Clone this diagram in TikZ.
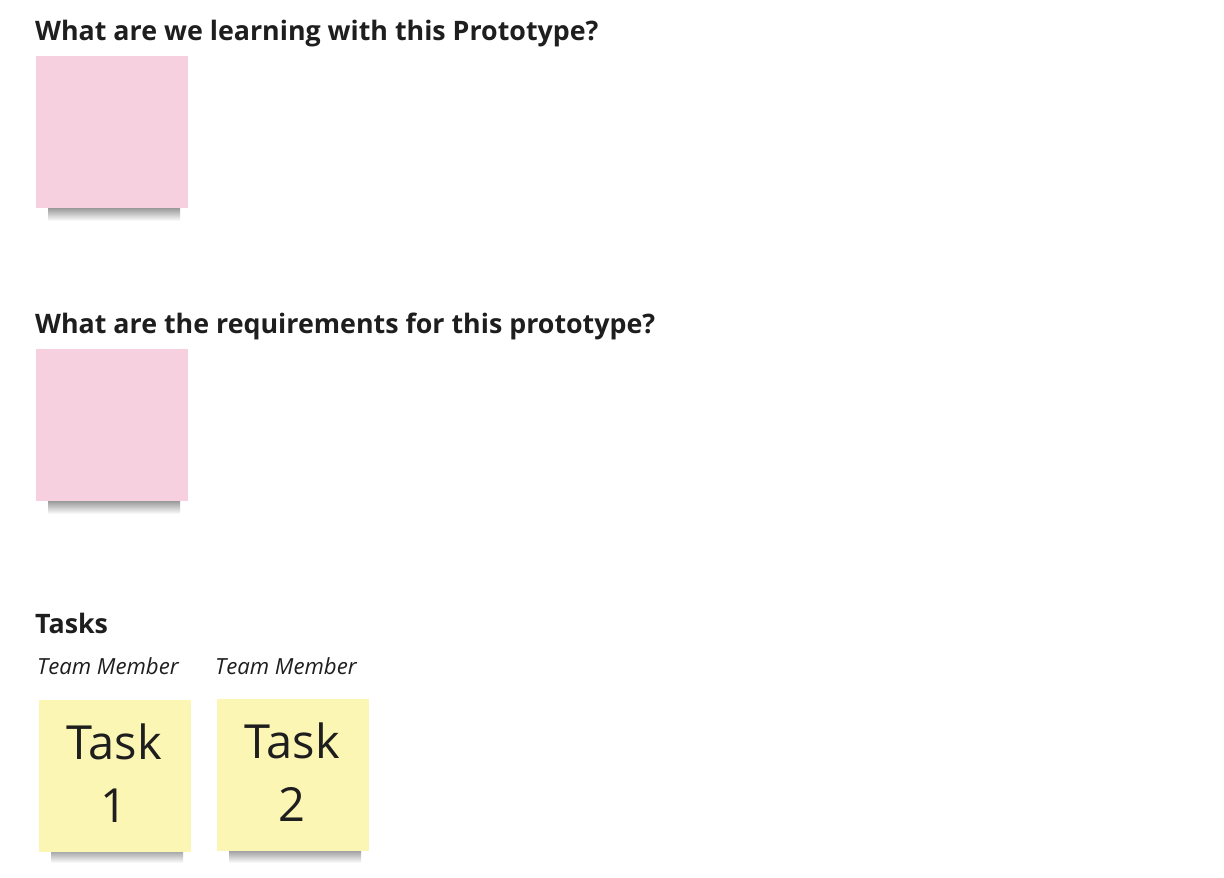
\documentclass[tikz,border=0pt]{standalone}
\usepackage{fontspec}
\setmainfont{Open Sans}
\definecolor{notepink}{HTML}{F6D0DF}
\definecolor{noteyellow}{HTML}{FCF6B4}
\definecolor{inkdark}{HTML}{1E1E1E}
\begin{document}
\begin{tikzpicture}[x=1pt,y=-1pt,
  heading/.style={anchor=base west,inner sep=0pt,font=\fontsize{26.8}{32}\selectfont\bfseries,text=inkdark},
  member/.style={anchor=base west,inner sep=0pt,font=\fontsize{22.2}{26}\selectfont\itshape,text=inkdark},
  sticky/.style={anchor=north west,inner sep=0pt,minimum width=152pt,minimum height=152pt,draw=none},
  tasktext/.style={anchor=base,inner sep=0pt,font=\fontsize{47}{56}\selectfont,text=inkdark}
]
\useasboundingbox[fill=white] (0,0) rectangle (1224,878);

% shadows
\foreach \sx/\sy in {48/205, 48/498, 51/847, 229/847}{
  \shade[top color=black!65, bottom color=white, opacity=0.75]
    (\sx,\sy) rectangle ++(132,16);
}

\node[heading] (h1) at (35,40) {What are we learning with this Prototype?};
\node[sticky,fill=notepink] (p1) at (36,56) {};

\node[heading] (h2) at (35,333) {What are the requirements for this prototype?};
\node[sticky,fill=notepink] (p2) at (36,349) {};

\node[heading] (h3) at (35,633) {Tasks};
\node[member] (m1) at (37,674) {Team Member};
\node[member] (m2) at (215,674) {Team Member};

\node[sticky,fill=noteyellow] (y1) at (39,700) {};
\node[sticky,fill=noteyellow] (y2) at (217,699) {};
\node[tasktext] (t1a) at (114,759) {Task};
\node[tasktext] (t1b) at (114,822) {1};
\node[tasktext] (t2a) at (292,758) {Task};
\node[tasktext] (t2b) at (292,821) {2};
\end{tikzpicture}
\end{document}
